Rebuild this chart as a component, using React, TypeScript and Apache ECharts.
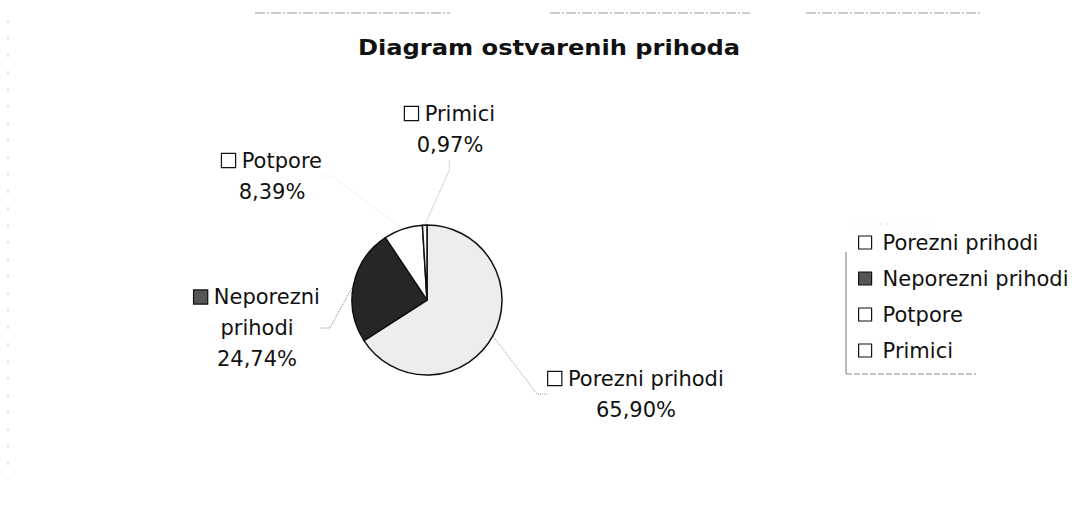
import React, { useEffect, useRef } from "react";
import * as echarts from "echarts";

const title = "Diagram ostvarenih prihoda";
const categories = ["Porezni prihodi", "Neporezni prihodi", "Potpore", "Primici"];
const labelNames = ["Porezni prihodi", "Neporezni\nprihodi", "Potpore", "Primici"];
const values = [65.9, 24.74, 8.39, 0.97];
const percentLabels = ["65,90%", "24,74%", "8,39%", "0,97%"];
const sliceColors = ["#ededed", "#262626", "#ffffff", "#ffffff"];
const iconColors = ["#ffffff", "#555555", "#ffffff", "#ffffff"];
const leaderColors = ["#999", "#888", "#e2e2e2", "#aaa"];
const labelAnchors = [
  [636, 394],
  [257, 328],
  [272, 176],
  [450, 129],
];

const FONT = "'DejaVu Sans', 'Liberation Sans', Arial, sans-serif";

export default function App() {
  const ref = useRef<HTMLDivElement>(null);
  useEffect(() => {
    document.body.style.margin = "0";
    const chart = echarts.init(ref.current!, null, { renderer: "svg" });
    chart.setOption({
      animation: false,
      backgroundColor: "#ffffff",
      legend: {
        orient: "vertical",
        left: 853,
        top: 227,
        itemGap: 15,
        itemWidth: 13,
        itemHeight: 13,
        icon: "rect",
        textStyle: { fontFamily: FONT, fontSize: 21, color: "#111", padding: [0, 0, 0, 6] },
        data: categories.map((c, i) => ({
          name: c,
          itemStyle: { color: iconColors[i], borderColor: "#111", borderWidth: 1.2 },
        })),
      },
      graphic: [
        {
          type: "text",
          x: 358,
          y: 48,
          scaleX: 1.15,
          style: {
            text: title,
            x: 0,
            y: 0,
            fontFamily: FONT,
            fontSize: 21,
            fontWeight: "bold",
            fill: "#111",
            textVerticalAlign: "middle",
            textAlign: "left",
          },
        },
        { type: "line", shape: { x1: 846, y1: 252, x2: 846, y2: 374 }, style: { stroke: "#777", lineWidth: 1 } },
        { type: "line", shape: { x1: 846, y1: 374, x2: 976, y2: 374 }, style: { stroke: "#888", lineWidth: 1, lineDash: [6, 2] } },
        { type: "line", shape: { x1: 852, y1: 224, x2: 930, y2: 224 }, style: { stroke: "#ccc", lineWidth: 1, lineDash: [1, 6] } },
        { type: "line", shape: { x1: 255, y1: 13, x2: 450, y2: 13 }, style: { stroke: "#999", lineWidth: 1, lineDash: [10, 2, 2, 2] } },
        { type: "line", shape: { x1: 550, y1: 13, x2: 750, y2: 13 }, style: { stroke: "#999", lineWidth: 1, lineDash: [10, 2, 2, 2] } },
        { type: "line", shape: { x1: 806, y1: 13, x2: 980, y2: 13 }, style: { stroke: "#999", lineWidth: 1, lineDash: [10, 2, 2, 2] } },
        { type: "line", shape: { x1: 8, y1: 20, x2: 8, y2: 480 }, style: { stroke: "#ccc", lineWidth: 1, lineDash: [3, 14] } },
      ],
      series: [
        {
          type: "pie",
          center: [427, 300],
          radius: 75,
          startAngle: 90,
          clockwise: true,
          silent: true,
          data: categories.map((c, i) => ({
            name: c,
            value: values[i],
            itemStyle: { color: sliceColors[i], borderColor: "#111", borderWidth: 1.5 },
            labelLine: { lineStyle: { color: leaderColors[i] } },
          })),
          label: {
            show: true,
            position: "outside",
            formatter: (p: any) => {
              const i = p.dataIndex;
              const box = i === 1 ? "{bd|}" : "{bw|}";
              const lines = labelNames[i].split("\n");
              const first = `${box}{t| ${lines[0]}}`;
              const rest = lines.slice(1).map((l) => `{t|${l}}`);
              return [first, ...rest, `{t|${percentLabels[i]}}`].join("\n");
            },
            align: "center",
            lineHeight: 31,
            rich: {
              t: { fontFamily: FONT, fontSize: 21, color: "#111", lineHeight: 31 },
              bw: { width: 13, height: 13, backgroundColor: "#fff", borderColor: "#111", borderWidth: 1.2 },
              bd: { width: 13, height: 13, backgroundColor: "#555", borderColor: "#111", borderWidth: 1.2 },
            },
          },
          labelLine: {
            show: true,
            length: 20,
            length2: 10,
            lineStyle: { color: "#888", width: 1, type: "dotted" },
          },
          labelLayout: (params: any) => {
            const a = labelAnchors[params.dataIndex];
            return { x: a[0], y: a[1], align: "center", verticalAlign: "middle" };
          },
        },
      ],
    });
    return () => chart.dispose();
  }, []);
  return (
    <div
      ref={ref}
      style={{ width: 1078, height: 513, position: "absolute", left: 0, top: 0 }}
    />
  );
}
